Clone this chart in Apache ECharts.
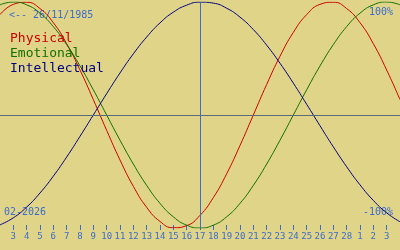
<!DOCTYPE html>
<html><head><meta charset="utf-8">
<script src="https://cdn.jsdelivr.net/npm/echarts@6/dist/echarts.min.js"></script>
<style>html,body{margin:0;padding:0;background:#e0d488}#c{width:400px;height:250px}</style>
</head><body><div id="c"></div>
<script>
// day positions: -1 .. 29 (0 = 3 Feb 2026, 14 = 17 Feb 2026, 28 = 3 Mar 2026)
var dayPos = [-1,0,1,2,3,4,5,6,7,8,9,10,11,12,13,14,15,16,17,18,19,20,21,22,23,24,25,26,27,28,29];
var tickPos = [0,1,2,3,4,5,6,7,8,9,10,11,12,13,14,15,16,17,18,19,20,21,22,23,24,25,26,27,28];
var dayLabels = ['3','4','5','6','7','8','9','10','11','12','13','14','15','16','17','18','19','20','21','22','23','24','25','26','27','28','1','2','3'];
var physical = [88.8,97.9,99.8,94.2,81.7,63.1,39.8,13.6,-13.6,-39.8,-63.1,-81.7,-94.2,-99.8,-97.9,-88.8,-73.1,-52.0,-27.0,0,27.0,52.0,73.1,88.8,97.9,99.8,94.2,81.7,63.1,39.8,13.6];
var emotional = [97.5,100,97.5,90.1,78.2,62.3,43.4,22.3,0,-22.3,-43.4,-62.3,-78.2,-90.1,-97.5,-100,-97.5,-90.1,-78.2,-62.3,-43.4,-22.3,0,22.3,43.4,62.3,78.2,90.1,97.5,100,97.5];
var intellectual = [-97.2,-91.0,-81.5,-69.0,-54.1,-37.2,-18.9,0,18.9,37.2,54.1,69.0,81.5,91.0,97.2,99.9,99.0,94.5,86.6,75.6,61.8,45.8,28.2,9.5,-9.5,-28.2,-45.8,-61.8,-75.6,-86.6,-94.5];
var todayPos = 14;
var birthText = '<-- 26/11/1985';
var monthText = '02-2026';
var topText = '100%';
var bottomText = '-100%';

function pairs(arr){ return dayPos.map(function(x,i){return [x,arr[i]];}); }
var blue = '#3c6ccc';
var mono = 'DejaVu Sans Mono';
var chart = echarts.init(document.getElementById('c'));
chart.setOption({
  backgroundColor: '#e0d488',
  animation: false,
  grid: {left: 0, right: 0, top: 2, bottom: 22},
  xAxis: {
    type: 'value', min: -1, max: 29, offset: -3,
    axisLine: {show: false, onZero: false},
    splitLine: {show: false},
    axisTick: {show: true, length: 5, customValues: tickPos, lineStyle: {color: blue, width: 1}},
    axisLabel: {show: true, customValues: tickPos, margin: 7, color: blue, fontSize: 9, fontFamily: mono,
      hideOverlap: false, formatter: function(v){ return dayLabels[Math.round(v)]; }}
  },
  yAxis: {type: 'value', min: -100, max: 100, show: false},
  legend: {
    orient: 'vertical', left: 0, top: 27, itemGap: 2, icon: 'none', itemWidth: 0, itemHeight: 0,
    textStyle: {fontFamily: mono, fontSize: 13},
    data: [
      {name: 'Physical', textStyle: {color: '#cc0000'}},
      {name: 'Emotional', textStyle: {color: '#127000'}},
      {name: 'Intellectual', textStyle: {color: '#000080'}}
    ]
  },
  graphic: [
    {type: 'text', left: 9, top: 10, style: {text: birthText, fill: blue, font: '10px "DejaVu Sans Mono"'}},
    {type: 'text', right: 7, top: 7, style: {text: topText, fill: blue, font: '10px "DejaVu Sans Mono"'}},
    {type: 'text', left: 4, top: 207, style: {text: monthText, fill: blue, font: '10px "DejaVu Sans Mono"'}},
    {type: 'text', right: 7, top: 207, style: {text: bottomText, fill: blue, font: '10px "DejaVu Sans Mono"'}}
  ],
  series: [
    {name: 'Physical', type: 'line', data: pairs(physical), smooth: true, showSymbol: false,
     lineStyle: {color: '#cc0000', width: 1}, itemStyle: {color: '#cc0000'},
     markLine: {silent: true, symbol: 'none', label: {show: false},
       data: [{yAxis: 0, lineStyle: {color: '#5a6a78', width: 1, type: 'solid'}},
              {xAxis: todayPos, lineStyle: {color: blue, width: 1, type: 'solid'}}]}},
    {name: 'Emotional', type: 'line', data: pairs(emotional), smooth: true, showSymbol: false,
     lineStyle: {color: '#127000', width: 1}, itemStyle: {color: '#127000'}},
    {name: 'Intellectual', type: 'line', data: pairs(intellectual), smooth: true, showSymbol: false,
     lineStyle: {color: '#000080', width: 1}, itemStyle: {color: '#000080'}}
  ]
});
</script></body></html>
